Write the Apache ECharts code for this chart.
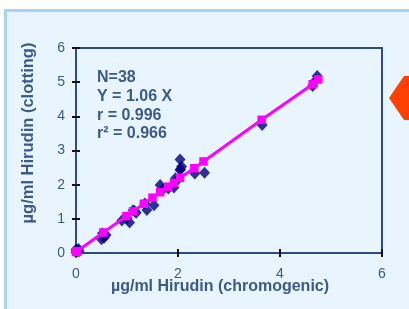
<!DOCTYPE html>
<html><head><meta charset="utf-8">
<script src="https://cdn.jsdelivr.net/npm/echarts@6/dist/echarts.min.js"></script>
<style>html,body{margin:0;padding:0;background:#fff;}#c{width:409px;height:309px;}</style>
</head><body><div id="c"></div>
<script>
// Measured data (µg/ml): chromogenic (x) vs clotting (y)
var observedX = [0.00,0.02,0.05,0.00,0.03,0.06,0.50,0.55,0.59,0.52,0.90,1.05,1.00,1.18,1.15,1.12,1.39,1.35,1.53,1.65,1.70,1.81,1.92,1.95,1.98,2.04,2.07,2.04,2.05,2.33,2.52,3.65,4.64,4.73,4.70];
var observedY = [0.10,0.05,0.12,0.02,0.08,0.05,0.40,0.45,0.53,0.58,0.95,0.89,1.02,1.18,1.22,1.25,1.26,1.45,1.40,1.99,1.85,1.89,1.92,2.19,2.12,2.74,2.53,2.43,2.45,2.33,2.35,3.75,4.89,5.18,5.05];
// Regression (fitted) points
var fitX = [0.00,0.02,0.535,0.99,1.12,1.33,1.50,1.65,1.81,1.92,2.04,2.32,2.50,3.64,4.64,4.75];
var fitY = [0.03,0.05,0.60,1.08,1.22,1.44,1.62,1.78,1.94,2.05,2.20,2.48,2.68,3.90,4.94,5.08];
var tickValues = [0,1,2,3,4,5,6];
var statLines = ['N=38','Y = 1.06 X','r = 0.996','r\u00B2 = 0.966'];
var xTitle = '\u00B5g/ml Hirudin (chromogenic)';
var yTitle = '\u00B5g/ml Hirudin (clotting)';

var FONT = 'Liberation Sans, Arial, sans-serif';
var TXT = '#3B5A86';
var AX = '#2B4C7E';

var obs = observedX.map(function(v,i){return [v, observedY[i]];});
var fit = fitX.map(function(v,i){return [v, fitY[i]];});

var chart = echarts.init(document.getElementById('c'), null, {renderer:'canvas'});

var graphics = [
  {type:'rect', z:-10, silent:true, shape:{x:5.5, y:10.5, width:420, height:320},
   style:{fill:'#E8F5FE', stroke:'#A8D2F8', lineWidth:3}},
  {type:'polygon', z:10, shape:{points:[[389,98],[404,76],[410,76],[410,120],[404,120]]},
   style:{fill:'#FF4000'}},
  {type:'text', z:10, x:220, y:287, style:{text:xTitle, fill:TXT, font:'bold 16px '+FONT, textAlign:'center', textVerticalAlign:'middle'}},
  {type:'text', z:10, x:28, y:133, rotation:Math.PI/2, style:{text:yTitle, fill:TXT, font:'bold 16.5px '+FONT, textAlign:'center', textVerticalAlign:'middle'}}
];
var statY = [78, 97, 115.5, 134];
statLines.forEach(function(t,i){
  graphics.push({type:'text', z:10, x:97, y:statY[i], style:{text:t, fill:TXT, font:'bold 16px '+FONT, textAlign:'left', textVerticalAlign:'middle'}});
});

var axisCommon = {type:'value', min:0, max:6, interval:1, splitLine:{show:false}};

chart.setOption({
  animation:false,
  backgroundColor:'transparent',
  grid:{left:76, right:27, top:48, bottom:56, show:true, borderColor:AX, borderWidth:2, backgroundColor:'transparent'},
  xAxis:[
    Object.assign({}, axisCommon, {interval:2,
      axisLine:{show:true, lineStyle:{color:AX, width:2}},
      axisTick:{show:true, inside:false, length:4, lineStyle:{color:'#111', width:2}},
      axisLabel:{margin:14, color:TXT, fontSize:14, fontFamily:FONT}}),
    Object.assign({}, axisCommon, {interval:2, position:'bottom',
      axisLine:{show:false},
      axisTick:{show:true, inside:true, length:4, lineStyle:{color:'#111', width:2}},
      axisLabel:{show:false}})
  ],
  yAxis:[
    Object.assign({}, axisCommon, {
      axisLine:{show:true, lineStyle:{color:AX, width:2}},
      axisTick:{show:true, inside:false, length:4, lineStyle:{color:'#111', width:2}},
      axisLabel:{margin:11, color:TXT, fontSize:14, fontFamily:FONT}}),
    Object.assign({}, axisCommon, {position:'left',
      axisLine:{show:false},
      axisTick:{show:true, inside:true, length:4, lineStyle:{color:'#111', width:2}},
      axisLabel:{show:false}})
  ],
  series:[
    {type:'scatter', data:obs, symbol:'diamond', symbolSize:[11,12], itemStyle:{color:'#000080'}, z:3},
    {type:'line', data:fit, symbol:'rect', symbolSize:8.5, showAllSymbol:true,
     lineStyle:{color:'#FF00FF', width:3}, itemStyle:{color:'#FF00FF'}, z:4}
  ],
  graphic:graphics
});
</script></body></html>
